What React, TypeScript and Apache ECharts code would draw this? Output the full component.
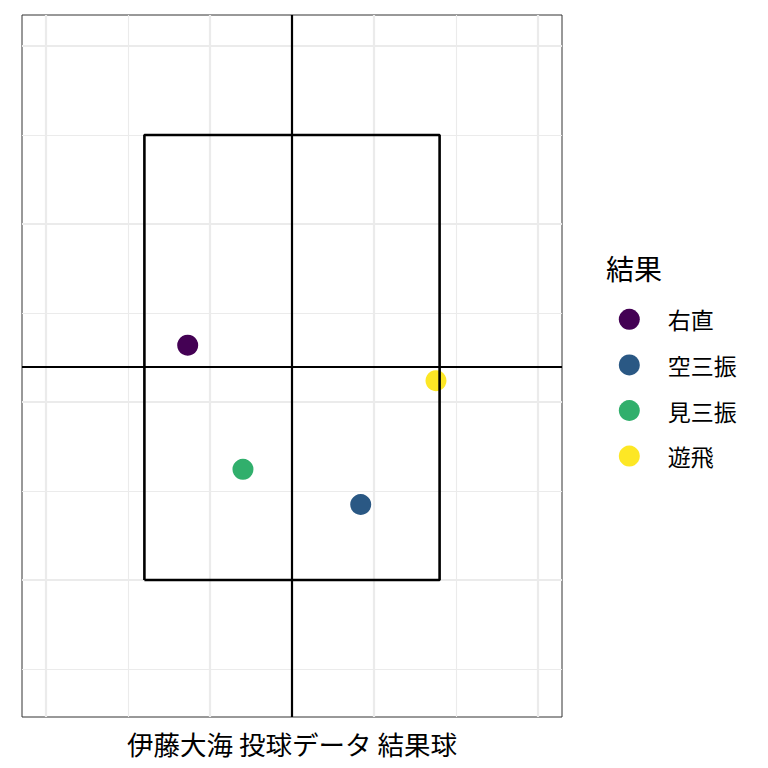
import React, { useEffect, useRef } from "react";
import * as echarts from "echarts";

// ---- data ----
const categories = ["右直", "空三振", "見三振", "遊飛"];
const pointX = [0.864, 1.919, 1.201, 2.378];
const pointY = [2.319, 1.424, 1.622, 2.12];
const colors = ["#440154", "#2A5884", "#31AF6C", "#FDE725"];

const zoneX = [0.6, 2.4];
const zoneY = [1.0, 3.5];
const centerX = 1.5;
const centerY = 2.2;

const majorX = [0, 1, 2, 3];
const minorX = [0.5, 1.5, 2.5];
const majorY = [1, 2, 3, 4];
const minorY = [0.5, 1.5, 2.5, 3.5];

const xRange = [-0.14634, 3.14634];
const yRange = [0.23034, 4.17416];

const axisTitle = "伊藤大海 投球データ 結果球";
const legendTitle = "結果";

const FONT = "'Noto Sans CJK JP', 'Noto Sans', sans-serif";

export default function App() {
  const ref = useRef<HTMLDivElement>(null);

  useEffect(() => {
    if (!ref.current) return;
    const chart = echarts.init(ref.current, undefined, { renderer: "svg" });

    const gridLines = [
      ...majorX.map((v) => ({ xAxis: v, lineStyle: { width: 2.2, color: "#EBEBEB", type: "solid" } })),
      ...minorX.map((v) => ({ xAxis: v, lineStyle: { width: 1.1, color: "#EBEBEB", type: "solid" } })),
      ...majorY.map((v) => ({ yAxis: v, lineStyle: { width: 2.2, color: "#EBEBEB", type: "solid" } })),
      ...minorY.map((v) => ({ yAxis: v, lineStyle: { width: 1.1, color: "#EBEBEB", type: "solid" } })),
    ];

    const zoneData = [
      [zoneX[0], zoneY[0]],
      [zoneX[1], zoneY[0]],
      [zoneX[1], zoneY[1]],
      [zoneX[0], zoneY[1]],
      [zoneX[0], zoneY[0]],
    ];

    const option: any = {
      animation: false,
      backgroundColor: "#ffffff",
      textStyle: { fontFamily: FONT },
      grid: {
        left: 22,
        top: 15,
        width: 540,
        height: 702,
        show: true,
        borderColor: "#333333",
        borderWidth: 1,
        backgroundColor: "transparent",
        containLabel: false,
      },
      xAxis: {
        type: "value",
        min: xRange[0],
        max: xRange[1],
        axisLine: { show: false },
        axisTick: { show: false },
        axisLabel: { show: false },
        splitLine: { show: false },
        name: axisTitle,
        nameLocation: "middle",
        nameGap: 13,
        nameTextStyle: { fontSize: 26.5, color: "#000000", fontFamily: FONT, verticalAlign: "top" },
      },
      yAxis: {
        type: "value",
        min: yRange[0],
        max: yRange[1],
        axisLine: { show: false },
        axisTick: { show: false },
        axisLabel: { show: false },
        splitLine: { show: false },
      },
      legend: {
        data: categories,
        orient: "vertical",
        left: 618.8,
        top: 307.8,
        padding: 0,
        itemWidth: 21,
        itemHeight: 21,
        itemGap: 22.6,
        icon: "circle",
        textStyle: { fontSize: 23, color: "#000000", fontFamily: FONT, padding: [0, 0, 0, 23] },
        selectedMode: false,
      },
      graphic: [
        {
          type: "text",
          left: 606,
          top: 254,
          style: {
            text: legendTitle,
            fontSize: 28,
            fill: "#000000",
            fontFamily: FONT,
          },
        },
      ],
      series: [
        {
          type: "line",
          name: "grid",
          data: [],
          z: 1,
          silent: true,
          markLine: {
            z: 1,
            silent: true,
            symbol: ["none", "none"],
            label: { show: false },
            emphasis: { disabled: true },
            data: gridLines,
          },
        },
        ...categories.map((c, i) => ({
          type: "scatter",
          name: c,
          z: 2,
          symbol: "circle",
          symbolSize: 21,
          itemStyle: { color: colors[i], opacity: 1 },
          data: [[pointX[i], pointY[i]]],
        })),
        {
          type: "line",
          name: "zone",
          z: 3,
          silent: true,
          symbol: "none",
          data: zoneData,
          lineStyle: { color: "#000000", width: 2.6 },
          markLine: {
            z: 3,
            silent: true,
            symbol: ["none", "none"],
            label: { show: false },
            emphasis: { disabled: true },
            lineStyle: { color: "#000000", width: 2.2, type: "solid" },
            data: [{ xAxis: centerX }, { yAxis: centerY }],
          },
        },
      ],
    };

    chart.setOption(option);
    return () => chart.dispose();
  }, []);

  return (
    <div
      ref={ref}
      style={{ position: "absolute", left: 0, top: 0, width: 768, height: 768 }}
    />
  );
}
